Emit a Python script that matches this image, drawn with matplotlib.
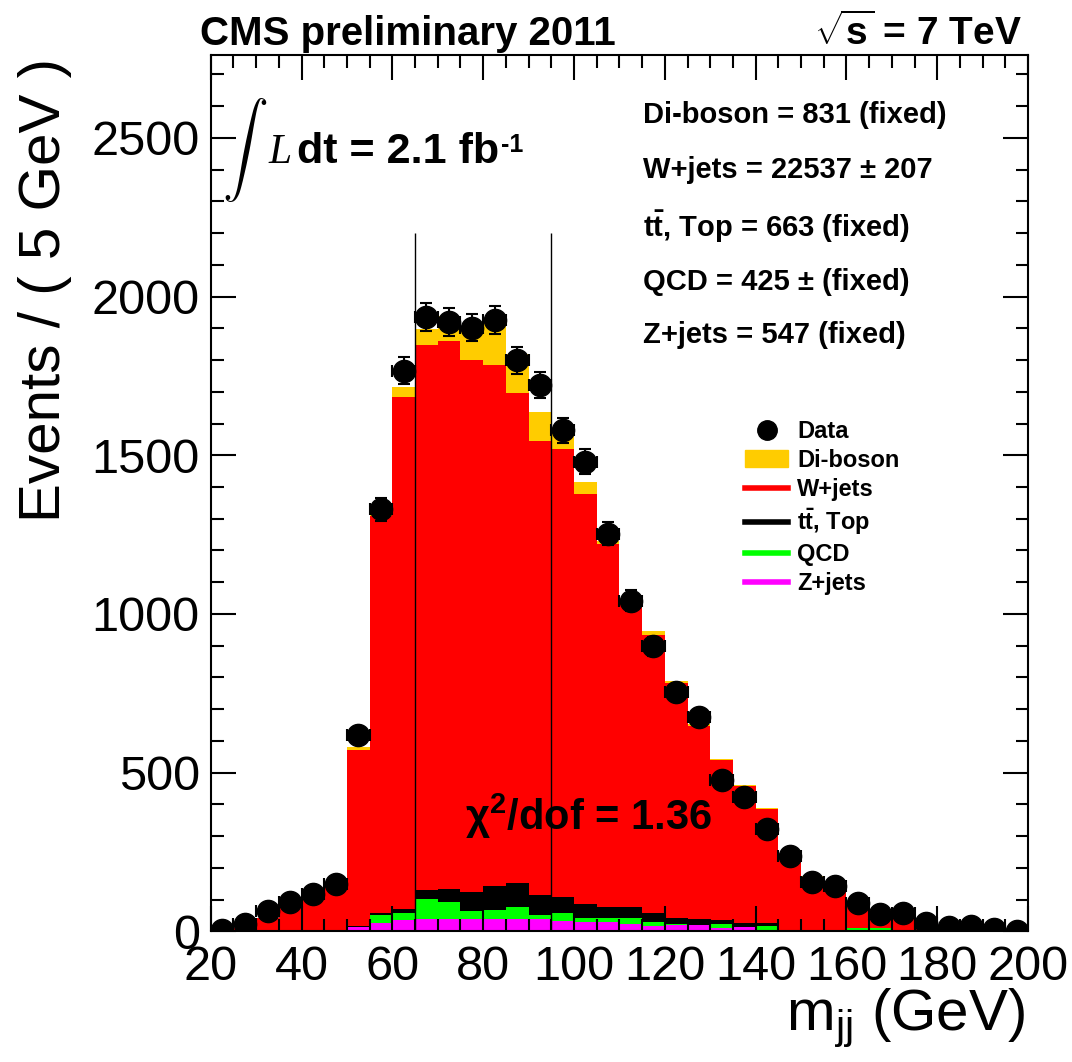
import numpy as np
import matplotlib
matplotlib.use('Agg')
import matplotlib.pyplot as plt
from matplotlib.ticker import MultipleLocator
from matplotlib.lines import Line2D
from matplotlib.patches import Patch

plt.rcParams['font.family'] = ['Liberation Sans', 'DejaVu Sans']
plt.rcParams['mathtext.fontset'] = 'custom'
plt.rcParams['mathtext.rm'] = 'Liberation Sans'
plt.rcParams['mathtext.bf'] = 'Liberation Sans:bold'
plt.rcParams['mathtext.it'] = 'Liberation Sans:italic'

# 5 GeV bins from 20 to 200
edges = np.arange(20, 205, 5)

# stacked components, bottom -> top
zjets = [0, 0, 0, 0, 0, 0, 15, 27, 36, 38, 38, 38, 39, 38, 38, 33, 29, 29,
         25, 17, 19, 19, 10, 13, 6, 2, 1, 1, 0, 0, 0, 0, 0, 0, 0, 0]
qcd = [0, 0, 0, 5, 6, 0, 0, 24, 23, 65, 55, 25, 28, 40, 13, 24, 15, 12,
       18, 13, 3, 0, 13, 0, 11, 1, 2, 0, 10, 10, 0, 0, 0, 0, 0, 0]
top = [0, 0, 0, 0, 0, 0, 2, 7, 13, 29, 40, 61, 77, 76, 63, 52, 44, 36,
       34, 27, 21, 19, 13, 13, 11, 3, 1, 1, 0, 0, 0, 0, 0, 0, 0, 0]
wjets = [2, 10, 42, 84, 112, 142, 555, 1250, 1613, 1716, 1727, 1675, 1641, 1543, 1431, 1412, 1289, 1145,
         963, 878, 740, 610, 503, 431, 357, 234, 169, 121, 85, 56, 53, 24, 7, 7, 5, 3]
diboson = [0, 1, 2, 2, 2, 3, 8, 17, 30, 49, 79, 106, 137, 121, 91, 56, 39, 8,
           5, 13, 7, 6, 5, 5, 5, 3, 2, 2, 2, 2, 1, 1, 1, 1, 1, 1]
data = [5, 22, 66, 94, 119, 150, 618, 1330, 1766, 1936, 1920, 1902, 1925, 1799, 1722, 1578, 1480, 1253,
        1042, 898, 753, 676, 476, 425, 323, 237, 155, 142, 91, 55, 58, 28, 14, 18, 7, 3]

cut_lines = [65, 95]

fig = plt.figure(figsize=(10.72, 10.62), dpi=100)
ax = fig.add_axes([0.1966, 0.1229, 0.7624, 0.8251])

bottom = np.zeros(len(data))
for vals, col in [(zjets, '#ff00ff'), (qcd, '#00ff00'), (top, 'black'),
                  (wjets, '#ff0000'), (diboson, '#ffcc00')]:
    vals = np.array(vals)
    ax.stairs(bottom + vals, edges, baseline=bottom, fill=True, color=col, linewidth=0)
    bottom = bottom + vals

ax.vlines(cut_lines, 0, 2200, colors='black', linewidth=1)

centers = edges[:-1] + 2.5
ax.errorbar(centers, data, xerr=2.5, yerr=np.sqrt(data), fmt='o', color='black',
            markersize=16, capsize=4, elinewidth=1.5, capthick=1.5, zorder=5)

ax.set_xlim(20, 200)
ax.set_ylim(0, 2760)
ax.set_xticks(range(20, 201, 20))
ax.set_yticks(range(0, 2501, 500))
ax.xaxis.set_minor_locator(MultipleLocator(5))
ax.yaxis.set_minor_locator(MultipleLocator(100))
ax.tick_params(which='both', direction='in', top=True, right=True, width=1.5, labelsize=35)
ax.tick_params(which='major', length=18)
ax.tick_params(which='minor', length=9)
ax.tick_params(axis='x', pad=10)
ax.tick_params(axis='y', pad=8)
for s in ax.spines.values():
    s.set_linewidth(1.5)

fig.text(45 / 1072, 1 - 58 / 1062, 'Events / ( 5 GeV )', rotation=90, ha='center', va='top', fontsize=42)
fig.text(1025 / 1072, 1 - 1030 / 1062, r'm$_{\rm jj}$ (GeV)', ha='right', va='baseline', fontsize=42)

fig.text(200 / 1072, 1 - 45 / 1062, 'CMS preliminary 2011', fontsize=29, fontweight='bold', va='baseline')
fig.text(1022 / 1072, 1 - 45 / 1062, r'$\sqrt{\mathbf{s}}$ = 7 TeV', fontsize=28, fontweight='bold',
         ha='right', va='baseline')

# luminosity label
ax.text(0.014, 0.8916, r'$\int$', math_fontfamily='cm', fontsize=33, va='center', transform=ax.transAxes)
ax.text(0.0705, 0.8768, 'L', family='Liberation Serif', style='italic', fontsize=30,
        va='baseline', transform=ax.transAxes)
lumi = ax.text(0.1057, 0.8768, 'dt = 2.1 fb', fontsize=31, fontweight='bold',
               va='baseline', transform=ax.transAxes)
ax.annotate('-1', xy=(1, 0.97), xycoords=lumi, xytext=(1, 0), textcoords='offset points',
            fontsize=18, fontweight='bold', va='top')

fit_lines = ['Di-boson = 831 (fixed)', 'W+jets = 22537 ± 207', r'$\mathbf{t\bar{t}}$, Top = 663 (fixed)',
             'QCD = 425 ± (fixed)', 'Z+jets = 547 (fixed)']
fit_y = [0.9224, 0.8597, 0.7923, 0.7318, 0.6714]
for t, yy in zip(fit_lines, fit_y):
    ax.text(0.529, yy, t, fontsize=21, fontweight='bold', va='baseline', transform=ax.transAxes)

ax.text(76, 320, r'χ$^{\mathbf{2}}$/dof = 1.36', fontsize=30, fontweight='bold', va='baseline')

handles = [Line2D([], [], marker='o', color='black', linestyle='none', markersize=14),
           Patch(facecolor='#ffcc00', edgecolor='#ffcc00'),
           Line2D([], [], color='#ff0000', lw=4),
           Line2D([], [], color='black', lw=4),
           Line2D([], [], color='#00ff00', lw=4),
           Line2D([], [], color='#ff00ff', lw=4)]
labels = ['Data', 'Di-boson', 'W+jets', r'$\mathbf{t\bar{t}}$, Top', 'QCD', 'Z+jets']
ax.legend(handles, labels, loc='upper left', bbox_to_anchor=(0.654, 0.5836), frameon=False,
          prop={'size': 17, 'weight': 'bold'}, handlelength=1.8, handletextpad=0.4,
          labelspacing=0.25, borderpad=0, borderaxespad=0)

fig.savefig('out.png', dpi=100)
